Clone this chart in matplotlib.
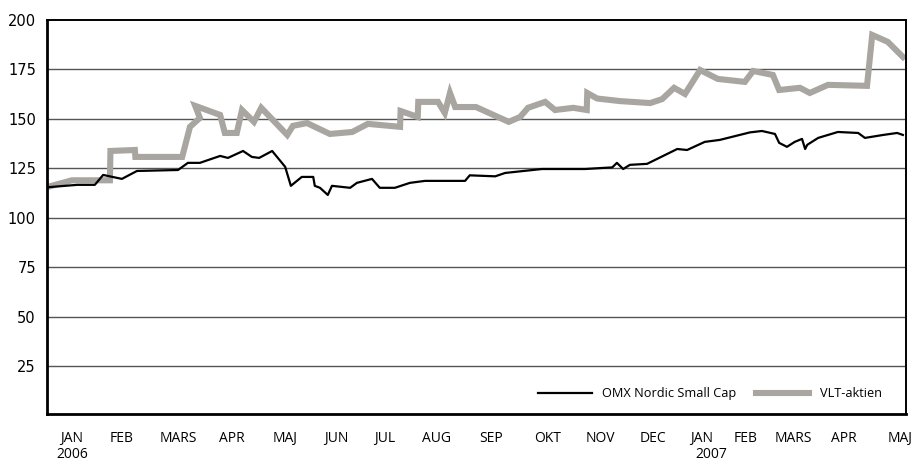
import numpy as np
import matplotlib
matplotlib.use("Agg")
import matplotlib.pyplot as plt
from matplotlib.transforms import blended_transform_factory

# x is in months counted from the left edge of the chart (start of Jan 2006)
omx_x = [0.02, 0.58, 0.92, 1.08, 1.44, 1.73, 2.52, 2.71, 2.94, 3.33, 3.48, 3.77,
         3.94, 4.08, 4.33, 4.58, 4.69, 4.90, 5.12, 5.15, 5.25, 5.40, 5.48, 5.83,
         5.96, 6.25, 6.40, 6.69, 6.98, 7.27, 8.04, 8.13, 8.62, 8.81, 9.52, 10.35,
         10.73, 10.87, 10.96, 11.08, 11.21, 11.54, 12.12, 12.31, 12.65, 12.94, 13.52,
         13.75, 14.00, 14.08, 14.23, 14.38, 14.52, 14.58, 14.62, 14.83, 15.21, 15.60,
         15.73, 16.08, 16.35, 16.46]
omx_y = [115.5, 116.7, 116.7, 121.7, 119.7, 123.7, 124.2, 127.8, 127.8, 131.3, 130.3, 133.8,
         130.8, 130.3, 133.8, 125.8, 116.2, 120.7, 120.7, 116.2, 115.2, 111.6, 116.2, 115.2,
         117.7, 119.7, 115.2, 115.2, 117.7, 118.7, 118.7, 121.5, 121.0, 122.7, 124.7, 124.7,
         125.3, 125.5, 127.8, 124.7, 126.8, 127.3, 134.8, 134.3, 138.4, 139.4, 143.2,
         143.9, 142.4, 137.9, 135.9, 138.4, 139.9, 134.8, 136.9, 140.4, 143.4, 142.9,
         140.4, 141.9, 142.9, 141.9]

vlt_x = [0.02, 0.48, 1.21, 1.22, 1.69, 1.70, 2.60, 2.75, 2.94, 2.85, 3.33, 3.42,
         3.65, 3.75, 3.98, 4.12, 4.62, 4.73, 5.00, 5.44, 5.87, 6.17, 6.79, 6.80,
         7.13, 7.14, 7.52, 7.65, 7.75, 7.85, 8.25, 8.88, 9.10, 9.25, 9.58, 9.77,
         10.12, 10.38, 10.39, 10.58, 11.02, 11.60, 11.83, 12.06, 12.27, 12.56, 12.90,
         13.42, 13.58, 13.96, 14.08, 14.48, 14.67, 15.02, 15.77, 15.87, 16.17, 16.46]
vlt_y = [115.7, 119.0, 119.0, 133.8, 134.3, 130.8, 130.8, 146.0, 150.5, 156.6, 152.0, 142.9,
         142.9, 154.5, 148.5, 155.6, 141.9, 146.5, 147.9, 142.4, 143.4, 147.5, 146.0, 154.0,
         151.0, 158.6, 158.6, 153.0, 163.1, 156.0, 156.0, 148.5, 151.0, 155.6, 158.6, 154.5,
         155.6, 154.5, 163.1, 160.3, 159.0, 158.0, 160.0, 165.7, 162.6, 174.7, 170.2,
         168.7, 174.2, 172.2, 164.6, 165.7, 163.1, 167.2, 166.7, 192.4, 188.9, 181.3]

month_pos = [0.48, 1.44, 2.52, 3.56, 4.58, 5.56, 6.50, 7.50, 8.54, 9.63, 10.65, 11.65,
             12.58, 13.44, 14.35, 15.33, 16.40]
month_labels = ["JAN", "FEB", "MARS", "APR", "MAJ", "JUN", "JUL", "AUG", "SEP", "OKT",
                "NOV", "DEC", "JAN", "FEB", "MARS", "APR", "MAJ"]
year_pos = [0.48, 12.77]
year_labels = ["2006", "2007"]
y_ticks = [25, 50, 75, 100, 125, 150, 175, 200]

fig = plt.figure(figsize=(9.16, 4.63), dpi=100)
ax = fig.add_axes([0.0513, 0.106, 0.9378, 0.851])

for v in y_ticks[:-1]:
    ax.axhline(v, color="#555555", linewidth=1.0, zorder=1)

ax.plot(vlt_x, vlt_y, color="#a9a6a1", linewidth=4.4, solid_joinstyle="miter",
        label="VLT-aktien", zorder=2)
ax.plot(omx_x, omx_y, color="black", linewidth=1.6, label="OMX Nordic Small Cap", zorder=3)

ax.set_xlim(0, 16.52)
ax.set_ylim(1, 200)

ax.set_yticks(y_ticks)
ax.set_yticklabels([str(v) for v in y_ticks], fontsize=10.5, family="DejaVu Sans")
ax.tick_params(axis="y", length=0, pad=8)

ax.set_xticks(month_pos)
ax.set_xticklabels(month_labels, fontsize=10, family="Open Sans")
ax.tick_params(axis="x", length=0, pad=12)

# year labels sit right under the month labels, at the bottom edge
trans = blended_transform_factory(ax.transData, fig.transFigure)
for xp, lab in zip(year_pos, year_labels):
    ax.text(xp, 0.002, lab, transform=trans, ha="center", va="bottom",
            fontsize=10, family="Open Sans")

for side in ["left", "bottom"]:
    ax.spines[side].set_linewidth(2.0)
for side in ["top", "right"]:
    ax.spines[side].set_linewidth(1.4)

h, l = ax.get_legend_handles_labels()
ax.legend(h[::-1], l[::-1], loc="lower right", ncol=2, frameon=False,
          prop={"family": "Open Sans", "size": 9.2}, handlelength=4.2,
          columnspacing=1.5, bbox_to_anchor=(0.985, 0.005))

fig.savefig("out.png", dpi=100)
